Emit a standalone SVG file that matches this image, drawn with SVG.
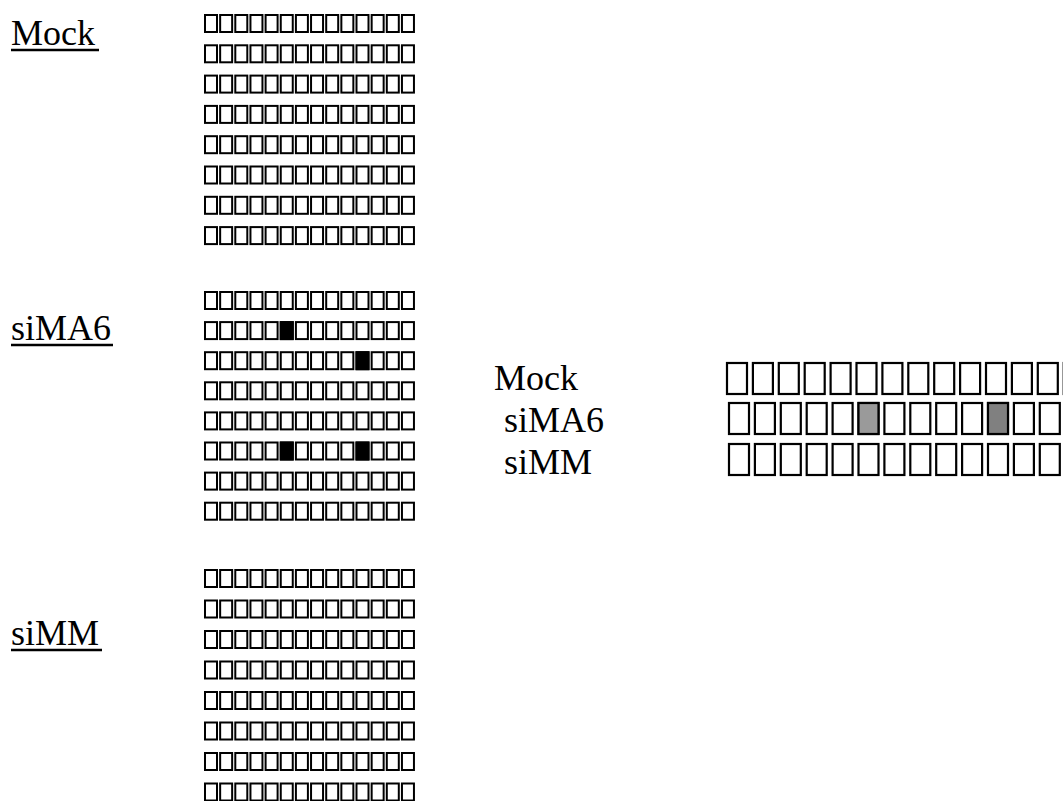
<svg xmlns="http://www.w3.org/2000/svg" width="1063" height="801" viewBox="0 0 1063 801">
<style>
.lbl{font-family:"Liberation Serif","Times New Roman",serif;font-size:36px;fill:#000}
.u{stroke:#000;stroke-width:2.5}
.b{fill:#fff;stroke:#000;stroke-width:2}
.k{fill:#000;stroke:#000;stroke-width:2}
.B{fill:#fff;stroke:#000;stroke-width:2.2}
.g1{fill:#9a9a9a;stroke:#000;stroke-width:2.2}
.g2{fill:#808080;stroke:#000;stroke-width:2.2}
</style>
<defs>
<g id="c14">
<rect class="b" x="0" y="0" width="12" height="17"/>
<rect class="b" x="15.15" y="0" width="12" height="17"/>
<rect class="b" x="30.3" y="0" width="12" height="17"/>
<rect class="b" x="45.45" y="0" width="12" height="17"/>
<rect class="b" x="60.6" y="0" width="12" height="17"/>
<rect class="b" x="75.75" y="0" width="12" height="17"/>
<rect class="b" x="90.9" y="0" width="12" height="17"/>
<rect class="b" x="106.05" y="0" width="12" height="17"/>
<rect class="b" x="121.2" y="0" width="12" height="17"/>
<rect class="b" x="136.35" y="0" width="12" height="17"/>
<rect class="b" x="151.5" y="0" width="12" height="17"/>
<rect class="b" x="166.65" y="0" width="12" height="17"/>
<rect class="b" x="181.8" y="0" width="12" height="17"/>
<rect class="b" x="196.95" y="0" width="12" height="17"/>
</g>
<g id="R14">
<rect class="B" x="0" y="0" width="20" height="31"/>
<rect class="B" x="25.9" y="0" width="20" height="31"/>
<rect class="B" x="51.8" y="0" width="20" height="31"/>
<rect class="B" x="77.7" y="0" width="20" height="31"/>
<rect class="B" x="103.6" y="0" width="20" height="31"/>
<rect class="B" x="129.5" y="0" width="20" height="31"/>
<rect class="B" x="155.4" y="0" width="20" height="31"/>
<rect class="B" x="181.3" y="0" width="20" height="31"/>
<rect class="B" x="207.2" y="0" width="20" height="31"/>
<rect class="B" x="233.1" y="0" width="20" height="31"/>
<rect class="B" x="259" y="0" width="20" height="31"/>
<rect class="B" x="284.9" y="0" width="20" height="31"/>
<rect class="B" x="310.8" y="0" width="20" height="31"/>
<rect class="B" x="336.7" y="0" width="20" height="31"/>
</g>
</defs>
<rect width="1063" height="801" fill="#fff"/>

<g id="label-mock">
<text class="lbl" x="11" y="45">Mock</text>
<line class="u" x1="11" y1="50" x2="99" y2="50"/>
</g>
<g id="label-sima6">
<text class="lbl" x="11" y="340">siMA6</text>
<line class="u" x1="11" y1="345" x2="113" y2="345"/>
</g>
<g id="label-simm">
<text class="lbl" x="11" y="645">siMM</text>
<line class="u" x1="11" y1="650" x2="102" y2="650"/>
</g>

<g id="grid-mock" transform="translate(205,15)">
<use href="#c14" y="0"/>
<use href="#c14" y="30.3"/>
<use href="#c14" y="60.6"/>
<use href="#c14" y="90.9"/>
<use href="#c14" y="121.2"/>
<use href="#c14" y="151.5"/>
<use href="#c14" y="181.8"/>
<use href="#c14" y="212.1"/>
</g>

<g id="grid-sima6" transform="translate(205,292)">
<use href="#c14" y="0"/>
<use href="#c14" y="30.1"/>
<use href="#c14" y="60.2"/>
<use href="#c14" y="90.3"/>
<use href="#c14" y="120.4"/>
<use href="#c14" y="150.5"/>
<use href="#c14" y="180.6"/>
<use href="#c14" y="210.7"/>
<rect class="k" x="75.75" y="30.1" width="12" height="17"/>
<rect class="k" x="151.5" y="60.2" width="12" height="17"/>
<rect class="k" x="75.75" y="150.5" width="12" height="17"/>
<rect class="k" x="151.5" y="150.5" width="12" height="17"/>
</g>

<g id="grid-simm" transform="translate(205,570)">
<use href="#c14" y="0"/>
<use href="#c14" y="30.5"/>
<use href="#c14" y="61"/>
<use href="#c14" y="91.5"/>
<use href="#c14" y="122"/>
<use href="#c14" y="152.5"/>
<use href="#c14" y="183"/>
<use href="#c14" y="213.5"/>
</g>

<g id="legend-labels">
<text class="lbl" x="494" y="390">Mock</text>
<text class="lbl" x="504" y="432">siMA6</text>
<text class="lbl" x="504" y="474">siMM</text>
</g>

<g id="summary-grid">
<use href="#R14" x="727" y="363"/>
<use href="#R14" x="729" y="403"/>
<rect class="g1" x="858.5" y="403" width="20" height="31"/>
<rect class="g2" x="988" y="403" width="20" height="31"/>
<use href="#R14" x="729" y="444"/>
</g>
</svg>
